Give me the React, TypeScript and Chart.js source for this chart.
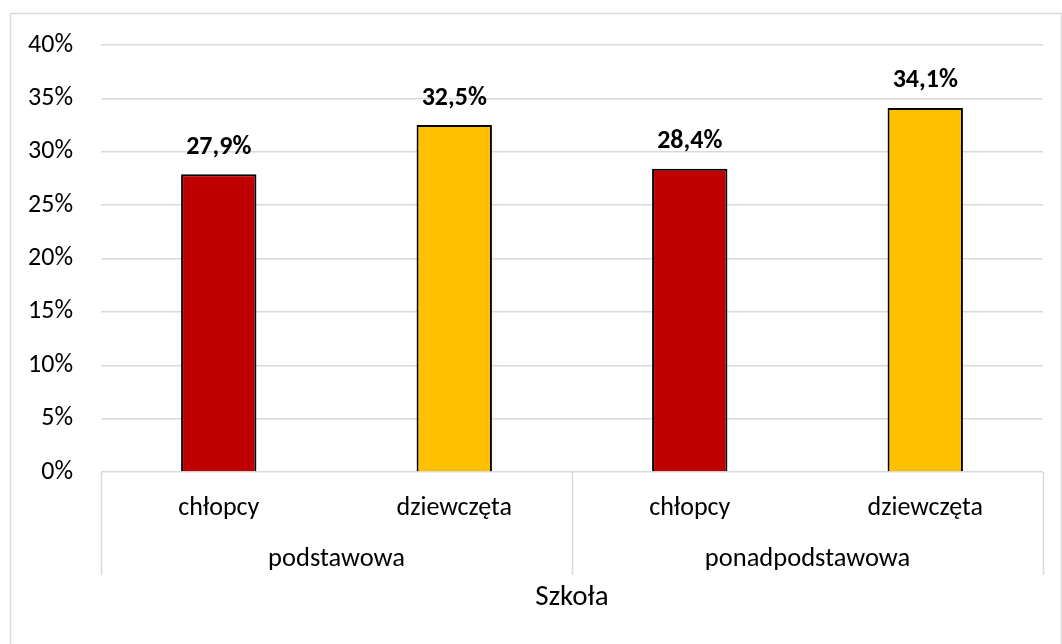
import React, { useEffect, useRef } from "react";
import { Chart, registerables } from "chart.js";
Chart.register(...registerables);

const categories = ["chłopcy", "dziewczęta", "chłopcy", "dziewczęta"];
const groups = ["podstawowa", "ponadpodstawowa"];
const values = [27.9, 32.5, 28.4, 34.1];
const barColors = ["#C00000", "#FFC000", "#C00000", "#FFC000"];
const yMax = 40;
const yStep = 5;
const axisTitle = "Szkoła";

const FONT = "Carlito, Calibri, Lato, 'Noto Sans', sans-serif";
const W = 1062;
const H = 644;
const GRID = "#d9d9d9";

const fmt = (v: number) => v.toFixed(1).replace(".", ",") + "%";

const decor = {
  id: "decor",
  beforeDraw(chart: any) {
    const ctx = chart.ctx;
    ctx.save();
    ctx.fillStyle = "#fff";
    ctx.fillRect(0, 0, chart.width, chart.height);
    ctx.strokeStyle = GRID;
    ctx.lineWidth = 1.5;
    ctx.strokeRect(10.5, 13.5, 1051, 700);
    ctx.restore();
  },
  afterDatasetsDraw(chart: any) {
    const ctx = chart.ctx;
    const meta = chart.getDatasetMeta(0);
    ctx.save();
    ctx.font = `bold 26px ${FONT}`;
    ctx.fillStyle = "#000";
    ctx.textAlign = "center";
    ctx.textBaseline = "middle";
    meta.data.forEach((bar: any, i: number) => {
      ctx.fillText(fmt(values[i]), bar.x, bar.y - 27);
    });
    ctx.restore();
  },
  afterDraw(chart: any) {
    const ctx = chart.ctx;
    const xs = chart.scales.x;
    const area = chart.chartArea;
    const per = categories.length / groups.length;
    ctx.save();
    ctx.strokeStyle = GRID;
    ctx.lineWidth = 1.5;
    for (let g = 0; g <= groups.length; g++) {
      const px = Math.round(xs.getPixelForValue(g * per - 0.5)) + 0.5;
      ctx.beginPath();
      ctx.moveTo(px, area.bottom);
      ctx.lineTo(px, area.bottom + 103);
      ctx.stroke();
    }
    ctx.fillStyle = "#000";
    ctx.textAlign = "center";
    ctx.textBaseline = "middle";
    ctx.font = `26.5px ${FONT}`;
    groups.forEach((name, g) => {
      const a = xs.getPixelForValue(g * per - 0.5);
      const b = xs.getPixelForValue((g + 1) * per - 0.5);
      ctx.fillText(name, (a + b) / 2, area.bottom + 87);
    });
    ctx.font = `29px ${FONT}`;
    ctx.fillText(axisTitle, (area.left + area.right) / 2, area.bottom + 126);
    ctx.restore();
  },
};

export default function App() {
  const ref = useRef<HTMLCanvasElement>(null);
  useEffect(() => {
    if (!ref.current) return;
    const chart = new Chart(ref.current, {
      type: "bar",
      data: {
        labels: categories,
        datasets: [
          {
            data: values,
            backgroundColor: barColors,
            borderColor: "#000",
            borderWidth: 2,
            barPercentage: 0.32,
            categoryPercentage: 1,
          },
        ],
      },
      options: {
        responsive: false,
        animation: false,
        layout: { padding: { top: 45, right: 19, bottom: 0, left: 0 } },
        plugins: { legend: { display: false }, tooltip: { enabled: false } },
        scales: {
          x: {
            grid: { display: false },
            border: { display: false },
            ticks: { color: "#000", font: { family: FONT, size: 26 }, padding: 13, maxRotation: 0 },
            afterFit: (s: any) => {
              s.height = H - 472;
            },
          },
          y: {
            min: 0,
            max: yMax,
            ticks: {
              stepSize: yStep,
              color: "#000",
              font: { family: FONT, size: 26 },
              padding: 28,
              callback: (v: any) => `${v}%`,
            },
            grid: { color: GRID, lineWidth: 1.5, drawTicks: false },
            border: { display: false },
            afterFit: (s: any) => {
              s.width = 101;
            },
          },
        },
      },
      plugins: [decor],
    });
    return () => chart.destroy();
  }, []);
  return (
    <div style={{ position: "absolute", left: 0, top: 0, width: W, height: H }}>
      <canvas ref={ref} width={W} height={H} style={{ display: "block" }} />
    </div>
  );
}
